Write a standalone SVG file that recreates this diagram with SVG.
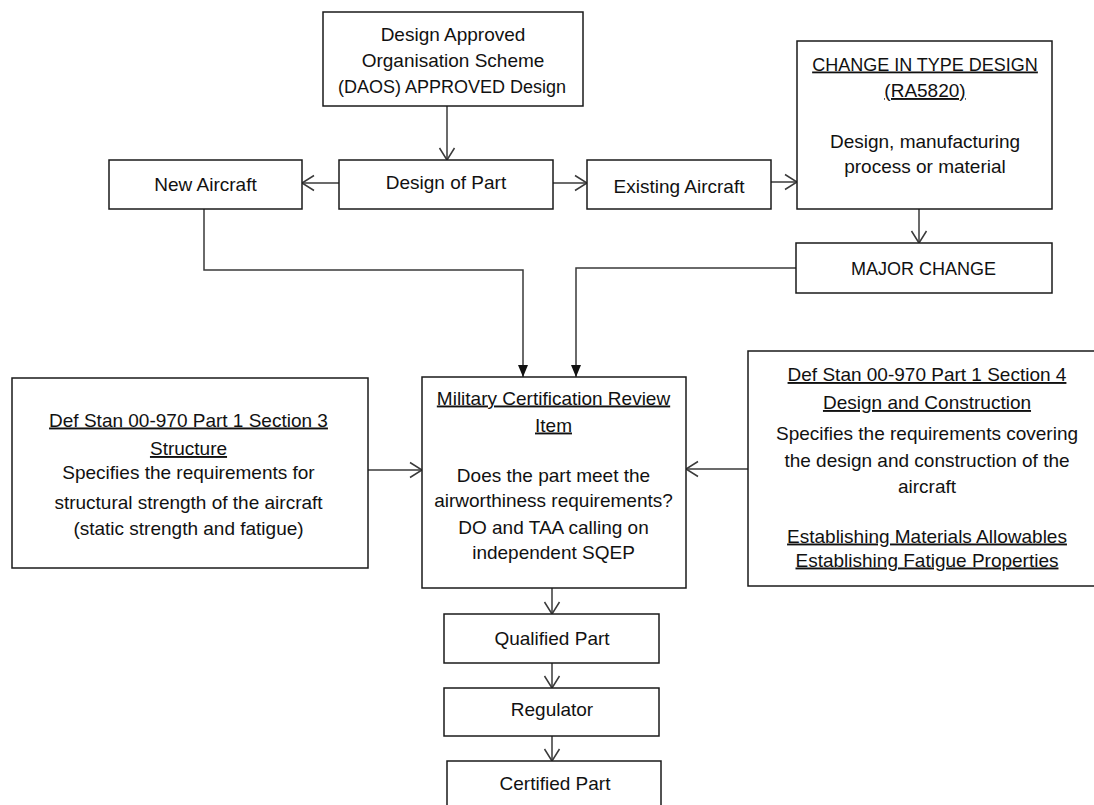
<svg xmlns="http://www.w3.org/2000/svg" width="1094" height="805" viewBox="0 0 1094 805">
  <style>
    .box { fill: #ffffff; stroke: #1a1a1a; stroke-width: 1.5; }
    .t { font-family: "Liberation Sans", Arial, sans-serif; font-size: 19px; fill: #111111; text-anchor: middle; }
    .caps { font-size: 18px; }
    .u { text-decoration: underline; }
    .link { fill: none; stroke: #3a3a3a; stroke-width: 1.5; }
    .open { marker-end: url(#chevron); }
    .solid { marker-end: url(#tri); }
  </style>
  <defs>
    <marker id="chevron" markerUnits="userSpaceOnUse" markerWidth="14" markerHeight="16" refX="12" refY="7.5" orient="auto" overflow="visible">
      <path d="M0,0 L12,7.5 L0,15" fill="none" stroke="#3a3a3a" stroke-width="1.5"/>
    </marker>
    <marker id="tri" markerUnits="userSpaceOnUse" markerWidth="13" markerHeight="11" refX="12" refY="5" orient="auto" overflow="visible">
      <path d="M0,0 L12,5 L0,10 Z" fill="#111111"/>
    </marker>
  </defs>

  <!-- connectors -->
  <g id="connectors">
    <path class="link open" d="M447,106 V160"/>
    <path class="link open" d="M339,183 H302"/>
    <path class="link open" d="M553,183 H587"/>
    <path class="link open" d="M771,182 H797"/>
    <path class="link open" d="M919,209 V243"/>
    <path class="link solid" d="M204,209 V270 H523 V377"/>
    <path class="link solid" d="M796,268 H576 V377"/>
    <path class="link open" d="M368,470 H422"/>
    <path class="link open" d="M748,469 H686"/>
    <path class="link open" d="M552,588 V614"/>
    <path class="link open" d="M552,663 V688"/>
    <path class="link open" d="M552,736 V761"/>
  </g>

  <g id="daos">
    <rect class="box" x="323" y="12" width="260" height="94"/>
    <text class="t" x="453" y="41">Design Approved</text>
    <text class="t" x="453" y="67">Organisation Scheme</text>
    <text class="t caps" x="452" y="93">(DAOS) APPROVED Design</text>
  </g>

  <g id="design-of-part">
    <rect class="box" x="339" y="160" width="214" height="49"/>
    <text class="t" x="446" y="189">Design of Part</text>
  </g>

  <g id="new-aircraft">
    <rect class="box" x="109" y="160" width="193" height="49"/>
    <text class="t" x="205.5" y="191">New Aircraft</text>
  </g>

  <g id="existing-aircraft">
    <rect class="box" x="587" y="160" width="184" height="49"/>
    <text class="t" x="679" y="193">Existing Aircraft</text>
  </g>

  <g id="change-in-type-design">
    <rect class="box" x="797" y="41" width="255" height="168"/>
    <text class="t caps u" x="925" y="70.5">CHANGE IN TYPE DESIGN</text>
    <text class="t u" x="925" y="97">(RA5820)</text>
    <text class="t" x="925" y="147.5">Design, manufacturing</text>
    <text class="t" x="925" y="172.5">process or material</text>
  </g>

  <g id="major-change">
    <rect class="box" x="796" y="243" width="256" height="50"/>
    <text class="t caps" x="923.5" y="275">MAJOR CHANGE</text>
  </g>

  <g id="section-3">
    <rect class="box" x="12" y="378" width="356" height="190"/>
    <text class="t u" x="188.5" y="426.5">Def Stan 00-970 Part 1 Section 3</text>
    <text class="t u" x="188.5" y="455">Structure</text>
    <text class="t" x="188.5" y="479">Specifies the requirements for</text>
    <text class="t" x="188.5" y="508.5">structural strength of the aircraft</text>
    <text class="t" x="188.5" y="535">(static strength and fatigue)</text>
  </g>

  <g id="review-item">
    <rect class="box" x="422" y="377" width="264" height="211"/>
    <text class="t u" x="553.5" y="404.5">Military Certification Review</text>
    <text class="t u" x="553.5" y="431.5">Item</text>
    <text class="t" x="553.5" y="482">Does the part meet the</text>
    <text class="t" x="553.5" y="507">airworthiness requirements?</text>
    <text class="t" x="553.5" y="533.5">DO and TAA calling on</text>
    <text class="t" x="553.5" y="559">independent SQEP</text>
  </g>

  <g id="section-4">
    <rect class="box" x="748" y="351" width="360" height="235"/>
    <text class="t u" x="927" y="381">Def Stan 00-970 Part 1 Section 4</text>
    <text class="t u" x="927" y="409">Design and Construction</text>
    <text class="t" x="927" y="440">Specifies the requirements covering</text>
    <text class="t" x="927" y="466.5">the design and construction of the</text>
    <text class="t" x="927" y="492.5">aircraft</text>
    <text class="t u" x="927" y="542.5">Establishing Materials Allowables</text>
    <text class="t u" x="927" y="566.5">Establishing Fatigue Properties</text>
  </g>

  <g id="qualified-part">
    <rect class="box" x="444" y="614" width="215" height="49"/>
    <text class="t" x="552" y="644.5">Qualified Part</text>
  </g>

  <g id="regulator">
    <rect class="box" x="444" y="688" width="215" height="48"/>
    <text class="t" x="552" y="716">Regulator</text>
  </g>

  <g id="certified-part">
    <rect class="box" x="447" y="761" width="214" height="60"/>
    <text class="t" x="555" y="789.5">Certified Part</text>
  </g>
</svg>
